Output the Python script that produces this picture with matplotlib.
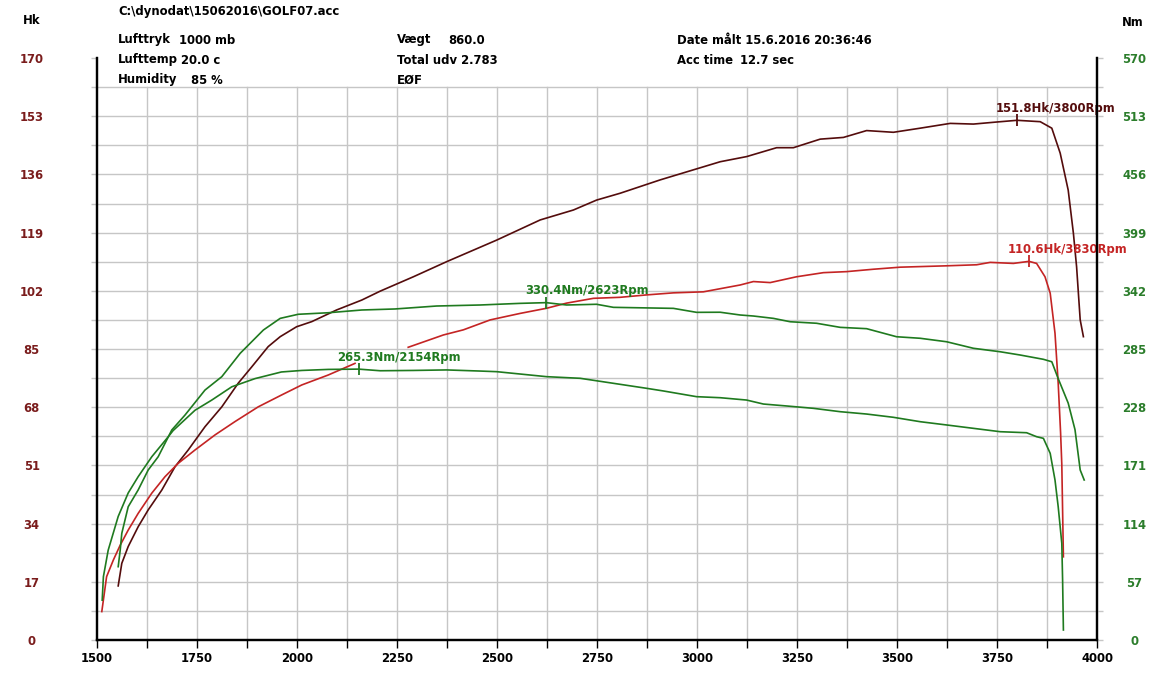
import numpy as np
import matplotlib
matplotlib.use('Agg')
import matplotlib.pyplot as plt

# ── data ───────────────────────────────────────────────────────────────────
# Hk curve 1 (dark brown, peak 151.8 Hk @ 3800)
rpm_hk1 = [1553, 1562, 1578, 1603, 1628, 1662, 1695, 1728, 1770, 1812, 1853, 1887,
           1928, 1958, 1999, 2037, 2099, 2162, 2208, 2291, 2374, 2499, 2608, 2691,
           2749, 2808, 2908, 3058, 3124, 3199, 3241, 3308, 3366, 3424, 3491, 3558,
           3633, 3691, 3749, 3800, 3858, 3887, 3908, 3928, 3941, 3949, 3958, 3966]
hk1 = [15.8, 22.4, 27.3, 33.1, 38.0, 43.8, 50.6, 55.5, 62.3, 68.1, 75.0, 79.8,
       85.7, 88.6, 91.5, 93.0, 96.4, 99.3, 101.9, 106.1, 110.5, 116.8, 122.7, 125.6,
       128.5, 130.5, 134.4, 139.7, 141.2, 143.8, 143.8, 146.3, 146.8, 148.8, 148.3, 149.5,
       150.9, 150.7, 151.3, 151.8, 151.4, 149.5, 142.2, 131.4, 118.8, 109.0, 93.5, 88.6]

# Hk curve 2 (red, peak 110.6 Hk @ 3830) - gap in the log after 2145 rpm
rpm_hk2 = [1512, 1524, 1541, 1558, 1578, 1603, 1637, 1670, 1703, 1745, 1795, 1845,
           1903, 1962, 2012, 2078, 2145, 2200, 2278, 2366, 2416, 2483, 2558, 2624,
           2674, 2741, 2808, 2874, 2941, 3016, 3108, 3141, 3183, 3249, 3316, 3374,
           3441, 3508, 3624, 3699, 3733, 3791, 3830, 3849, 3870, 3883, 3895, 3903,
           3909, 3912, 3916]
hk2 = [8.3, 18.5, 23.4, 27.7, 32.1, 37.0, 42.9, 47.7, 51.6, 55.5, 59.9, 63.8,
       68.1, 71.6, 74.5, 77.4, 80.8, np.nan, 85.5, 89.1, 90.6, 93.5, 95.4, 96.9,
       98.4, 99.8, 100.1, 100.8, 101.4, 101.7, 103.7, 104.7, 104.4, 106.1, 107.3, 107.6,
       108.3, 108.9, 109.3, 109.6, 110.3, 110.0, 110.6, 110.0, 106.1, 101.3, 89.6, 75.0,
       60.5, 51.3, 24.3]

# Nm curve 1 (peak 330.4 Nm @ 2623)
rpm_nm1 = [1553, 1558, 1562, 1578, 1603, 1628, 1653, 1687, 1720, 1770, 1812, 1858,
           1916, 1958, 2003, 2078, 2162, 2245, 2349, 2458, 2558, 2623, 2674, 2749,
           2791, 2941, 2999, 3058, 3108, 3141, 3191, 3233, 3299, 3358, 3424, 3499,
           3558, 3624, 3691, 3758, 3808, 3866, 3887, 3903, 3928, 3945, 3958, 3968]
nm1 = [71.8, 88.0, 104.5, 130.5, 147.0, 166.5, 179.5, 205.7, 220.3, 244.8, 257.9, 280.8,
       303.6, 315.0, 319.0, 320.5, 323.2, 324.2, 327.1, 328.1, 329.7, 330.4, 328.1, 328.8,
       325.8, 324.8, 320.9, 321.0, 318.3, 317.3, 315.0, 311.7, 310.2, 306.2, 304.9, 297.0,
       295.5, 292.1, 285.7, 282.3, 279.1, 274.9, 272.5, 256.0, 232.0, 206.0, 166.5, 156.7]

# Nm curve 2 (peak 265.3 Nm @ 2154)
rpm_nm2 = [1513, 1516, 1528, 1553, 1578, 1603, 1637, 1678, 1690, 1745, 1787, 1837,
           1895, 1961, 2012, 2078, 2154, 2208, 2291, 2374, 2458, 2499, 2624, 2708,
           2791, 2874, 2916, 2999, 3058, 3124, 3166, 3224, 3291, 3358, 3424, 3491,
           3558, 3624, 3691, 3758, 3824, 3849, 3866, 3883, 3895, 3903, 3912, 3914, 3916]
nm2 = [39.0, 62.0, 88.0, 121.0, 144.0, 160.0, 179.5, 199.0, 205.0, 225.0, 235.0, 248.0,
       256.0, 262.5, 264.0, 265.0, 265.3, 263.7, 264.0, 264.5, 263.4, 262.8, 257.9, 256.3,
       251.4, 246.5, 243.9, 238.3, 237.3, 235.0, 231.1, 229.2, 226.9, 223.6, 221.3, 218.1,
       213.8, 210.6, 207.3, 204.0, 203.0, 199.1, 197.5, 182.8, 156.7, 130.5, 94.7, 58.8, 9.8]

hk_peak_rpm = [3800, 3830]
hk_peak_val = [151.8, 110.6]
nm_peak_rpm = [2623, 2154]
nm_peak_val = [330.4, 265.3]

x_ticks = list(range(1500, 4001, 250))
hk_ticks = list(range(0, 171, 17))
nm_ticks = list(range(0, 571, 57))

# ── colours ────────────────────────────────────────────────────────────────
C_BROWN = '#540c0c'
C_RED = '#c42424'
C_GREEN = '#1f7a1f'
C_HKLAB = '#7a1c1c'
C_NMLAB = '#2b7d2b'
C_GRID = '#c6c6c6'
FS = 8.4

W, H = 1170, 686
fig = plt.figure(figsize=(W / 100, H / 100), dpi=100)
fig.patch.set_facecolor('white')
ax = fig.add_axes([97 / W, 1 - 640 / H, 1000 / W, 582 / H])
ax.set_xlim(1500, 4000)
ax.set_ylim(0, 170)
ax2 = ax.twinx()
ax2.set_ylim(0, 570)

# grid (stops at 161.5 Hk, axis runs to 170)
for v in np.arange(8.5, 162, 8.5):
    ax.plot([1500, 4000], [v, v], color=C_GRID, lw=1, zorder=0)
for r in range(1625, 4000, 125):
    ax.plot([r, r], [0, 161.5], color=C_GRID, lw=1, zorder=0)

# curves
ax.plot(rpm_hk1, hk1, color=C_BROWN, lw=1.2, zorder=3)
ax.plot(rpm_hk2, hk2, color=C_RED, lw=1.2, zorder=3)
ax2.plot(rpm_nm1, nm1, color=C_GREEN, lw=1.2, zorder=3)
ax2.plot(rpm_nm2, nm2, color=C_GREEN, lw=1.2, zorder=3)

# peak markers + labels
for r, v, c in zip(hk_peak_rpm, hk_peak_val, [C_BROWN, C_RED]):
    ax.plot([r], [v], marker='|', ms=8, mew=1.3, color=c, zorder=4)
    ax.annotate(f'{v:.1f}Hk/{r}Rpm', xy=(r, v), xytext=(-21, 12),
                textcoords='offset pixels', ha='left', va='center',
                fontsize=FS, fontweight='bold', color=c, zorder=5)
for r, v in zip(nm_peak_rpm, nm_peak_val):
    ax2.plot([r], [v], marker='|', ms=8, mew=1.3, color=C_GREEN, zorder=4)
    ax2.annotate(f'{v:.1f}Nm/{r}Rpm', xy=(r, v), xytext=(-21, 12),
                 textcoords='offset pixels', ha='left', va='center',
                 fontsize=FS, fontweight='bold', color=C_GREEN, zorder=5)

# spines
for a in (ax, ax2):
    a.spines['top'].set_visible(False)
    for s in ('left', 'right', 'bottom'):
        a.spines[s].set_color('black')
        a.spines[s].set_linewidth(1.6)

# x axis
ax.set_xticks(x_ticks)
ax.set_xticks(range(1625, 4000, 250), minor=True)
ax.set_xticklabels([str(t) for t in x_ticks], fontsize=FS, fontweight='bold')
ax.tick_params(axis='x', which='both', direction='out', length=6, width=1,
               color='black', pad=3)

# left axis
ax.set_yticks(hk_ticks)
ax.set_yticks(np.arange(8.5, 170, 17), minor=True)
ax.set_yticklabels([str(t) for t in hk_ticks], fontsize=FS, fontweight='bold',
                   color=C_HKLAB)
ax.tick_params(axis='y', which='both', direction='out', length=4, width=1,
               color=C_GRID, pad=43)
for lab in ax.get_yticklabels():
    lab.set_ha('center')

# right axis
ax2.set_yticks(nm_ticks)
ax2.set_yticks(np.arange(28.5, 570, 57), minor=True)
ax2.set_yticklabels([str(t) for t in nm_ticks], fontsize=FS, fontweight='bold',
                    color=C_NMLAB)
ax2.tick_params(axis='y', which='both', direction='out', length=4, width=1,
                color=C_GRID, pad=23)
for lab in ax2.get_yticklabels():
    lab.set_ha('center')

# header texts
def ftext(x, y, s, **kw):
    fig.text(x / W, 1 - y / H, s, fontsize=FS, fontweight='bold', va='center',
             ha='left', **kw)

ftext(23, 20, 'Hk')
ftext(1122, 22, 'Nm')
ftext(118, 11, 'C:\\dynodat\\15062016\\GOLF07.acc')
ftext(118, 40, 'Lufttryk')
ftext(179, 40, '1000 mb')
ftext(118, 60, 'Lufttemp')
ftext(181, 60, '20.0 c')
ftext(118, 80, 'Humidity')
ftext(191, 80, '85 %')
ftext(397, 40, 'Vægt')
ftext(448, 40, '860.0')
ftext(397, 60, 'Total udv 2.783')
ftext(397, 80, 'EØF')
ftext(677, 40, 'Date målt 15.6.2016 20:36:46')
ftext(677, 60, 'Acc time')
ftext(740, 60, '12.7 sec')

plt.savefig('out.png', dpi=100, facecolor='white')
